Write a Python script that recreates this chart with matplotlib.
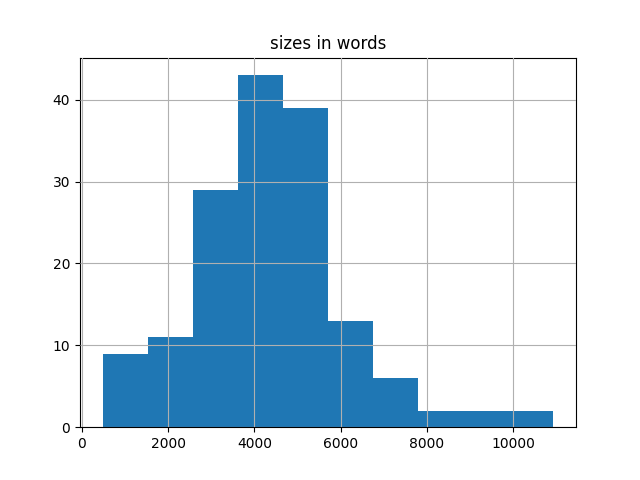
import matplotlib
matplotlib.use('Agg')
import matplotlib.pyplot as plt
import numpy as np

# histogram (10 bins)
bin_edges = [480, 1525, 2570, 3615, 4660, 5705, 6750, 7795, 8840, 9885, 10930]
counts = [9, 11, 29, 43, 39, 13, 6, 2, 2, 2]

fig, ax = plt.subplots(figsize=(6.4, 4.8), dpi=100)
ax.hist(bin_edges[:-1], bins=bin_edges, weights=counts, color='#1f77b4')
ax.set_title('sizes in words')
ax.grid(True)
ax.set_axisbelow(False)
plt.savefig('out.png')
